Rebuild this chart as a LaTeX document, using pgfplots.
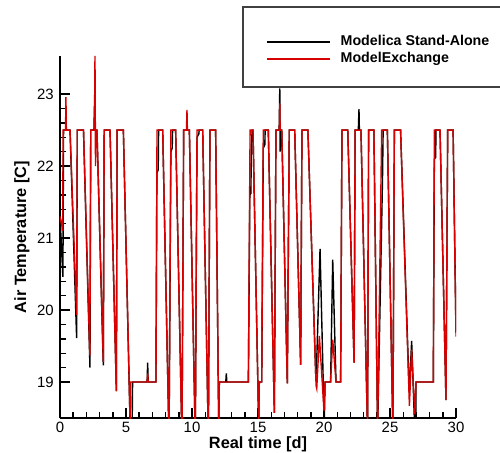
\documentclass[border=0pt]{standalone}
\usepackage{fontspec}
\setmainfont{Liberation Sans}
\usepackage{pgfplots}
\pgfplotsset{compat=1.18}
\definecolor{mxred}{RGB}{214,0,0}

\begin{document}
\begin{tikzpicture}
% page size: 500x452 px at 0.02cm per px, axis box origin at (0,0)
\path[use as bounding box] (-1.2,-0.68) rectangle (8.8,8.36);
\begin{axis}[
    at={(0,0)}, anchor=south west,
    scale only axis,
    width=7.92cm, height=7.24cm,
    xmin=0, xmax=30, ymin=18.5, ymax=23.53,
    axis x line=bottom, axis y line=left,
    axis line style={-, line width=1.1pt},
    tick align=inside,
    xtick={0,5,...,30}, ytick={19,20,...,23},
    minor x tick num=4, minor y tick num=4,
    major tick length=0.2cm, minor tick length=0.12cm,
    every tick/.style={black, line width=0.8pt},
    tick label style={font=\fontsize{8.5}{10}\selectfont},
    xticklabel style={yshift=1pt},
    /pgf/number format/assume math mode=true,
    xlabel={Real time [d]},
    ylabel={Air Temperature [C]},
    label style={font=\fontsize{9.3}{11}\selectfont\bfseries, inner sep=0pt},
    xlabel style={at={(axis description cs:0.5,-0.051)}, anchor=north},
    ylabel style={at={(axis description cs:-0.0758,0.5)}, anchor=south},
    legend style={draw=none, fill=none, inner sep=0pt,
        at={(rel axis cs:0.520,1.0152)}, anchor=west,
        nodes={inner sep=0pt, font=\fontsize{8.1}{9.5}\selectfont\bfseries},
        row sep=2.3pt,
        /tikz/every odd column/.style={column sep=0.2cm}},
    legend cell align=left,
    legend image code/.code={\draw[#1] (0cm,0cm) -- (1.26cm,0cm);},
]
\addplot[black, line width=0.8pt] coordinates {
(0.00,21.30) (0.22,20.46) (0.27,22.50) (0.76,22.50) (1.26,19.61) (1.31,22.50)
(1.78,22.50) (2.27,19.20) (2.33,22.50) (2.57,22.50) (2.63,23.00) (2.67,22.50)
(2.80,22.50) (3.28,19.23) (3.35,22.50) (3.79,22.50) (4.27,18.88) (4.33,22.50)
(4.80,22.50) (5.30,18.50) (5.46,18.30) (5.50,19.00) (6.60,19.00) (6.64,19.27)
(6.68,19.00) (7.27,19.00) (7.34,21.90) (7.44,21.95) (7.47,22.50) (7.78,22.50)
(8.26,18.20) (8.40,22.20) (8.50,22.25) (8.53,22.50) (8.76,22.50) (9.24,18.20)
(9.37,22.50) (9.80,22.50) (10.25,18.20) (10.38,22.40) (10.52,22.45) (10.54,22.50)
(10.81,22.50) (11.24,18.20) (11.36,22.50) (11.79,22.50) (12.03,18.30) (12.07,19.00)
(12.56,19.00) (12.60,19.12) (12.64,19.00) (14.27,19.00) (14.38,21.60) (14.46,21.62)
(14.50,22.30) (14.56,22.50) (14.62,22.50) (15.05,18.40) (15.10,19.00) (15.28,19.00)
(15.40,22.25) (15.52,22.30) (15.54,22.50) (15.78,22.50) (16.24,18.57) (16.36,22.50)
(16.60,22.50) (16.65,23.08) (16.68,22.20) (16.72,22.50) (16.80,22.50) (17.22,18.98)
(17.37,22.50) (17.78,22.50) (18.23,19.24) (18.33,22.50) (18.78,22.50) (19.37,19.12)
(19.42,19.12) (19.70,20.85) (20.02,18.40) (20.08,19.00) (20.50,19.00) (20.66,20.70)
(20.91,19.00) (21.26,19.00) (21.36,22.50) (21.80,22.50) (22.28,19.27) (22.36,22.50)
(22.60,22.50) (22.65,22.79) (22.68,22.50) (22.80,22.50) (23.30,18.30) (23.38,22.50)
(23.78,22.50) (24.06,18.30) (24.43,21.80) (24.48,22.50) (24.80,22.50) (25.22,18.30)
(25.33,22.50) (25.80,22.50) (26.46,18.85) (26.64,19.57) (26.86,18.40) (26.95,18.40)
(26.97,19.00) (28.28,19.00) (28.36,22.10) (28.46,22.12) (28.48,22.50) (28.79,22.50)
(29.24,18.75) (29.37,22.50) (29.78,22.50) (30.00,19.70)
};
\addplot[mxred, line width=0.8pt] coordinates {
(0.00,21.30) (0.15,21.16) (0.20,21.10) (0.24,22.50) (0.42,22.50) (0.45,22.96)
(0.48,22.50) (0.76,22.50) (1.26,19.93) (1.31,22.50) (1.78,22.50) (2.26,19.37)
(2.33,22.50) (2.62,22.50) (2.65,23.53) (2.69,22.00) (2.72,22.50) (2.80,22.50)
(3.28,19.28) (3.35,22.50) (3.79,22.50) (4.27,18.87) (4.33,22.50) (4.80,22.50)
(5.33,18.30) (5.36,19.00) (6.60,19.00) (6.64,19.12) (6.68,19.00) (7.27,19.00)
(7.35,22.50) (7.78,22.50) (8.26,18.20) (8.40,22.50) (8.76,22.50) (9.24,18.20)
(9.37,22.50) (9.58,22.50) (9.62,22.78) (9.65,22.50) (9.80,22.50) (10.25,18.20)
(10.38,22.50) (10.81,22.50) (11.24,18.20) (11.36,22.50) (11.79,22.50) (12.03,18.30)
(12.07,19.00) (14.27,19.00) (14.40,22.50) (14.62,22.50) (15.05,18.40) (15.10,19.00)
(15.28,19.00) (15.40,22.50) (15.78,22.50) (16.24,18.57) (16.36,22.50) (16.62,22.50)
(16.65,22.87) (16.68,22.50) (16.80,22.50) (17.22,18.98) (17.37,22.50) (17.78,22.50)
(18.23,19.24) (18.33,22.50) (18.78,22.50) (19.40,18.95) (19.45,18.91) (19.65,19.64)
(20.00,18.60) (20.08,19.00) (20.50,19.00) (20.66,19.59) (20.91,19.00) (21.26,19.00)
(21.36,22.50) (21.80,22.50) (22.28,19.27) (22.36,22.50) (22.80,22.50) (23.30,18.30)
(23.38,22.50) (23.78,22.50) (24.06,18.30) (24.37,22.50) (24.80,22.50) (25.22,18.30)
(25.33,22.50) (25.80,22.50) (26.47,18.67) (26.64,19.45) (26.88,18.55) (26.97,19.00)
(28.28,19.00) (28.36,22.50) (28.79,22.50) (29.24,18.75) (29.37,22.50) (29.78,22.50)
(30.00,19.63)
};
\legend{Modelica Stand-Alone, ModelExchange}
\end{axis}
% legend frame, running off the right edge as in the original
\draw[line width=0.9pt, black!75] (3.66,6.62) rectangle (9.2,8.22);
\end{tikzpicture}
\end{document}
